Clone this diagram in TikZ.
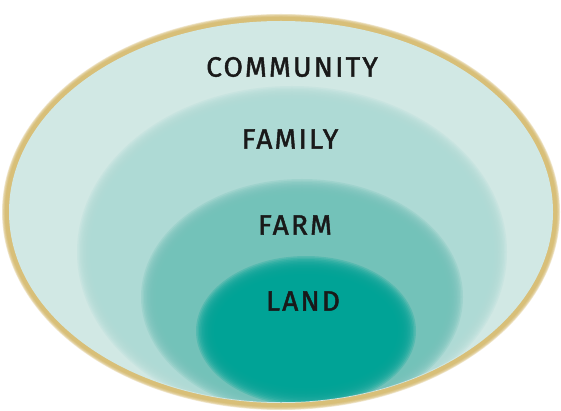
\documentclass[tikz,border=0pt]{standalone}
\usepackage{fontspec}
\setmainfont{Fira Sans}
\newfontfamily\handfont{Fira Sans}[FakeBold=1.6, LetterSpace=8]
\begin{document}
\begin{tikzpicture}[x=1pt,y=-1pt,
  label/.style={font=\fontsize{28}{30}\selectfont\handfont, text=black!90, inner sep=0pt, anchor=center}]
\definecolor{rim}{HTML}{D8BF78}
\definecolor{commc}{HTML}{D1E8E4}
\definecolor{famc}{HTML}{AEDAD5}
\definecolor{farmc}{HTML}{73C2B9}
\definecolor{landc}{HTML}{00A396}
\useasboundingbox (0,0) rectangle (561,411);
\fill[white] (0,0) rectangle (561,411);
% golden rim with a soft edge
\foreach \k in {0,...,5}
  \fill[rim, opacity=0.35] (281,212) ellipse ({279-\k*0.6} and {198-\k*0.6});
\fill[rim] (281,212) ellipse (276 and 195);
\fill[commc] (281,212) ellipse (272 and 191);
% nested layers, each drawn with a feathered edge
% #1 colour, #2 cx, #3 cy, #4 rx, #5 ry
\newcommand{\softlayer}[5]{%
  \foreach \k in {0,...,11}
    \fill[#1, opacity=0.25] (#2,#3) ellipse ({#4+9-\k*1.5} and {#5+9-\k*1.5});
  \fill[#1] (#2,#3) ellipse ({#4-9} and {#5-9});
}
\begin{scope}
  \clip (281,212) ellipse (271 and 190);
  \softlayer{famc}{292}{252}{206}{157}
  \softlayer{farmc}{302}{297}{152}{109}
  \softlayer{landc}{306}{331}{101}{66}
\end{scope}
\node[label] (community) at (292,67) {COMMUNITY};
\node[label] (family) at (290,139) {FAMILY};
\node[label] (farm) at (295,225) {FARM};
\node[label] (land) at (303,301) {LAND};
\end{tikzpicture}
\end{document}
